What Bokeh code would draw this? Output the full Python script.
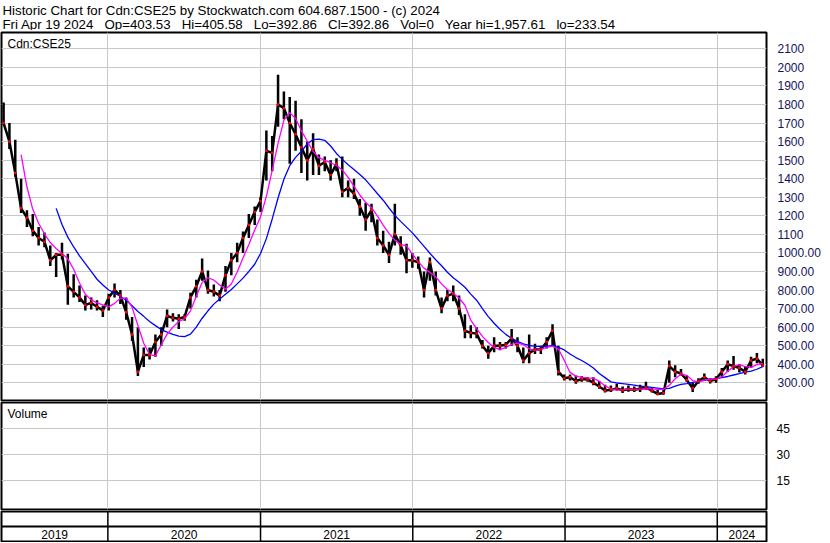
import pandas as pd
from bokeh.plotting import figure
from bokeh.layouts import column
from bokeh.models import Range1d, FixedTicker, Label, Span
from bokeh.core.properties import value
from bokeh.embed import file_html
from bokeh.resources import INLINE

nan = float("nan")

# ---------------- data (bi-weekly samples) ----------------
dates = pd.date_range(end="2024-04-19", periods=131, freq="14D")

high = [1810, 1700, 1610, 1400, 1230, 1210, 1140, 1110, 1040, 1000,
        1055, 995, 885, 825, 770, 760, 745, 715, 780, 835,
        800, 760, 655, 600, 490, 490, 560, 600, 695, 675,
        670, 670, 785, 855, 970, 905, 830, 800, 930, 1000,
        1055, 1115, 1210, 1250, 1300, 1660, 1630, 1960, 1870, 1840,
        1820, 1720, 1600, 1645, 1530, 1520, 1500, 1510, 1520, 1390,
        1400, 1290, 1270, 1265, 1180, 1120, 1060, 1265, 1090, 1050,
        1000, 980, 900, 975, 900, 760, 800, 825, 770, 670,
        610, 600, 530, 500, 545, 520, 520, 590, 545, 490,
        560, 510, 500, 545, 615, 500, 345, 345, 340, 335,
        330, 330, 310, 290, 285, 295, 280, 285, 280, 290,
        305, 275, 262, 260, 420, 395, 375, 340, 300, 325,
        350, 325, 335, 380, 420, 445, 400, 390, 440, 460,
        430]

low = [1690, 1560, 1410, 1215, 1140, 1090, 1040, 1030, 930, 870,
       965, 720, 760, 735, 690, 695, 690, 655, 690, 760,
       725, 640, 525, 337, 385, 425, 440, 500, 600, 630,
       590, 635, 700, 760, 850, 780, 765, 740, 790, 880,
       950, 1000, 1080, 1150, 1220, 1390, 1440, 1680, 1720, 1480,
       1550, 1430, 1390, 1420, 1420, 1440, 1390, 1440, 1300, 1300,
       1290, 1200, 1120, 1165, 1040, 1000, 945, 1040, 990, 890,
       920, 915, 760, 850, 770, 675, 740, 740, 665, 540,
       540, 540, 485, 430, 465, 475, 485, 500, 465, 405,
       405, 455, 455, 485, 495, 340, 312, 312, 295, 305,
       305, 287, 268, 248, 250, 258, 245, 252, 250, 250,
       262, 248, 234, 236, 300, 330, 340, 305, 250, 295,
       312, 296, 300, 330, 360, 370, 355, 345, 380, 405,
       385]

close = [1700, 1600, 1430, 1240, 1190, 1120, 1080, 1060, 960, 990,
         990, 820, 790, 760, 720, 730, 710, 690, 760, 800,
         770, 680, 560, 360, 450, 450, 520, 560, 660, 650,
         645, 655, 760, 820, 900, 800, 790, 770, 880, 960,
         1000, 1080, 1150, 1220, 1280, 1550, 1540, 1800, 1780, 1700,
         1640, 1570, 1500, 1560, 1470, 1490, 1420, 1480, 1330, 1350,
         1320, 1250, 1180, 1230, 1080, 1040, 990, 1100, 1040, 960,
         960, 950, 800, 950, 800, 700, 770, 780, 700, 580,
         570, 565, 500, 460, 500, 500, 505, 540, 500, 420,
         460, 480, 480, 520, 580, 360, 325, 330, 310, 320,
         318, 300, 280, 258, 262, 270, 260, 265, 262, 268,
         275, 258, 240, 245, 390, 360, 350, 315, 270, 310,
         330, 310, 320, 360, 400, 390, 380, 360, 420, 430,
         392.86]

ma_fast = [nan, nan, nan, 1530, 1355, 1235, 1160, 1103, 1056, 1024,
           997, 968, 912, 838, 777, 747, 731, 720, 709, 728,
           756, 756, 708, 609, 513, 452, 445, 505, 562, 600,
           630, 645, 688, 766, 841, 866, 854, 827, 804, 832,
           897, 973, 1045, 1124, 1195, 1305, 1445, 1590, 1716, 1756,
           1724, 1658, 1603, 1547, 1513, 1499, 1486, 1471, 1447, 1407,
           1360, 1312, 1272, 1244, 1200, 1150, 1105, 1069, 1046, 1038,
           994, 953, 918, 895, 871, 833, 803, 783, 757, 718,
           638, 592, 550, 517, 490, 480, 490, 507, 514, 506,
           483, 474, 480, 491, 498, 482, 422, 356, 336, 329,
           326, 324, 309, 283, 268, 260, 263, 265, 265, 266,
           268, 267, 265, 265, 286, 322, 346, 340, 312, 305,
           314, 320, 320, 332, 362, 388, 396, 387, 383, 398,
           405]

ma_slow = [nan, nan, nan, nan, nan, nan, nan, nan, nan, 1240,
           1153, 1085, 1032, 984, 942, 900, 858, 827, 800, 784,
           765, 745, 715, 684, 658, 630, 608, 587, 573, 561,
           552, 549, 562, 600, 648, 688, 724, 751, 777, 803,
           833, 864, 900, 939, 997, 1077, 1183, 1296, 1397, 1470,
           1515, 1548, 1587, 1611, 1613, 1607, 1576, 1536, 1504, 1475,
           1450, 1422, 1394, 1357, 1320, 1284, 1242, 1202, 1170, 1139,
           1108, 1072, 1035, 998, 963, 931, 896, 866, 842, 815,
           778, 745, 700, 657, 621, 589, 561, 539, 523, 510,
           502, 496, 496, 497, 500, 491, 477, 455, 436, 420,
           401, 380, 350, 328, 305, 299, 295, 291, 287, 282,
           279, 275, 271, 267, 270, 282, 291, 296, 302, 308,
           313, 318, 322, 328, 334, 342, 349, 357, 363, 373,
           387]

volume = [0] * 131

price_ticks = [300, 400, 500, 600, 700, 800, 900, 1000, 1100, 1200,
               1300, 1400, 1500, 1600, 1700, 1800, 1900, 2000, 2100]
price_tick_labels = ["300.00", "400.00", "500.00", "600.00", "700.00", "800.00",
                     "900.00", "1000.00", "1100", "1200", "1300", "1400", "1500",
                     "1600", "1700", "1800", "1900", "2000", "2100"]
vol_ticks = [15, 30, 45]
vol_tick_labels = ["15", "30", "45"]

year_starts = ["2020-01-01", "2021-01-01", "2022-01-01", "2023-01-01", "2024-01-01"]
year_labels = ["2019", "2020", "2021", "2022", "2023", "2024"]

title_line1 = "Historic Chart for Cdn:CSE25 by Stockwatch.com 604.687.1500 - (c) 2024"
sp = "\u00a0\u00a0\u00a0"
title_line2 = sp.join(["Fri Apr 19 2024", "Op=403.53", "Hi=405.58", "Lo=392.86",
                       "Cl=392.86", "Vol=0", "Year hi=1,957.61", "lo=233.54"])
symbol_label = "Cdn:CSE25"
volume_label = "Volume"

# ---------------- layout constants ----------------
W = 830
RIGHT = 64
FONT = "Liberation Sans"
GRID = "#c8c8c8"

x_start = pd.Timestamp("2019-04-21")
x_end = pd.Timestamp("2024-04-28")
x_rng = Range1d(x_start, x_end)
year_ms = [pd.Timestamp(d).value // 10**6 for d in year_starts]
day_ms = 86400000


def style_panel(p):
    p.outline_line_color = "black"
    p.outline_line_width = 2
    p.outline_line_alpha = 1
    p.background_fill_color = "white"
    p.border_fill_color = "white"


# ---------------- header ----------------
HH = 30
hdr = figure(width=W, height=HH, x_range=Range1d(0, W), y_range=Range1d(0, HH),
             x_axis_location=None, y_axis_location=None, output_backend="svg",
             toolbar_location=None, min_border=0)
hdr.grid.visible = False
hdr.outline_line_color = None
hdr.add_layout(Label(x=1, y=HH - 9.5, text=title_line1, text_font=FONT,
                     text_font_size="13.3px", text_color="black", text_baseline="alphabetic"))
hdr.add_layout(Label(x=1, y=HH - 23.5, text=title_line2, text_font=FONT,
                     text_font_size="13.3px", text_color="black", text_baseline="alphabetic"))

# ---------------- price panel ----------------
PH = 371
p = figure(width=W, height=PH, x_axis_type="datetime", x_range=x_rng,
           y_range=Range1d(204.6, 2187.8), x_axis_location=None, y_axis_location="right",
           output_backend="svg", toolbar_location=None,
           min_border_left=1, min_border_right=RIGHT, min_border_top=2, min_border_bottom=1)
style_panel(p)
p.xgrid.ticker = FixedTicker(ticks=year_ms)
p.ygrid.ticker = FixedTicker(ticks=price_ticks)
p.grid.grid_line_color = GRID
p.grid.grid_line_width = 1
yax = p.yaxis[0]
yax.ticker = FixedTicker(ticks=price_ticks)
yax.major_label_overrides = dict(zip(price_ticks, price_tick_labels))
yax.major_label_text_font = FONT
yax.major_label_text_font_size = "12px"
yax.major_label_text_color = "#14145a"
yax.major_tick_line_color = None
yax.minor_tick_line_color = None
yax.axis_line_color = None
yax.major_label_standoff = 5

# price bars: high-low bars joined by the close path
p.vbar(x=dates, top=high, bottom=low, width=6 * day_ms, fill_color="black", line_color=None)
p.line(x=dates, y=close, line_color="black", line_width=2.5)
p.line(x=dates, y=ma_slow, line_color="#0000ff", line_width=1.3)
p.line(x=dates, y=ma_fast, line_color="#ff00ff", line_width=1.3)
p.scatter(x=dates, y=close, marker="square", size=2.5, fill_color="red", line_color=None)
p.add_layout(Label(x=6, y=PH - 3 - 4, x_units="screen", y_units="screen", text=symbol_label,
                   text_font=FONT, text_font_size="12px", text_color="black",
                   text_baseline="top"))

# ---------------- volume panel ----------------
VH = 109
v = figure(width=W, height=VH, x_axis_type="datetime", x_range=x_rng,
           y_range=Range1d(-1.56, 60.2), x_axis_location=None, y_axis_location="right",
           output_backend="svg", toolbar_location=None,
           min_border_left=1, min_border_right=RIGHT, min_border_top=1, min_border_bottom=1)
style_panel(v)
v.xgrid.ticker = FixedTicker(ticks=year_ms)
v.ygrid.ticker = FixedTicker(ticks=vol_ticks)
v.grid.grid_line_color = GRID
v.grid.grid_line_width = 1
vax = v.yaxis[0]
vax.ticker = FixedTicker(ticks=vol_ticks)
vax.major_label_overrides = dict(zip(vol_ticks, vol_tick_labels))
vax.major_label_text_font = FONT
vax.major_label_text_font_size = "12px"
vax.major_label_text_color = "black"
vax.major_tick_line_color = None
vax.minor_tick_line_color = None
vax.axis_line_color = None
vax.major_label_standoff = 4
v.vbar(x=dates, top=volume, width=12 * day_ms, fill_color="black", line_color=None)
v.add_layout(Label(x=6, y=VH - 2 - 4, x_units="screen", y_units="screen", text=volume_label,
                   text_font=FONT, text_font_size="12px", text_color="black",
                   text_baseline="top"))

# ---------------- date strip ----------------
DH = 32
d = figure(width=W, height=DH, x_axis_type="datetime", x_range=x_rng, y_range=Range1d(0, 2),
           x_axis_location=None, y_axis_location=None, output_backend="svg",
           toolbar_location=None, min_border_left=1, min_border_right=RIGHT,
           min_border_top=1, min_border_bottom=1)
style_panel(d)
d.grid.visible = False
year_dt = [pd.Timestamp(s) for s in year_starts]
d.segment(x0=year_dt, y0=[0] * len(year_dt), x1=year_dt, y1=[2] * len(year_dt),
          line_color="black", line_width=1.5)
d.add_layout(Span(location=1, dimension="width", line_color="black", line_width=2))
bounds = [x_start] + year_dt + [x_end]
mids = [bounds[i] + (bounds[i + 1] - bounds[i]) / 2 for i in range(len(year_labels))]
d.text(x=mids, y=[0.5] * len(mids), text=year_labels, text_align="center",
       text_baseline="middle", text_font=value(FONT), text_font_size="12px",
       text_color="black")

layout = column(hdr, p, v, d)
open("out.html", "w").write(file_html(layout, INLINE))
